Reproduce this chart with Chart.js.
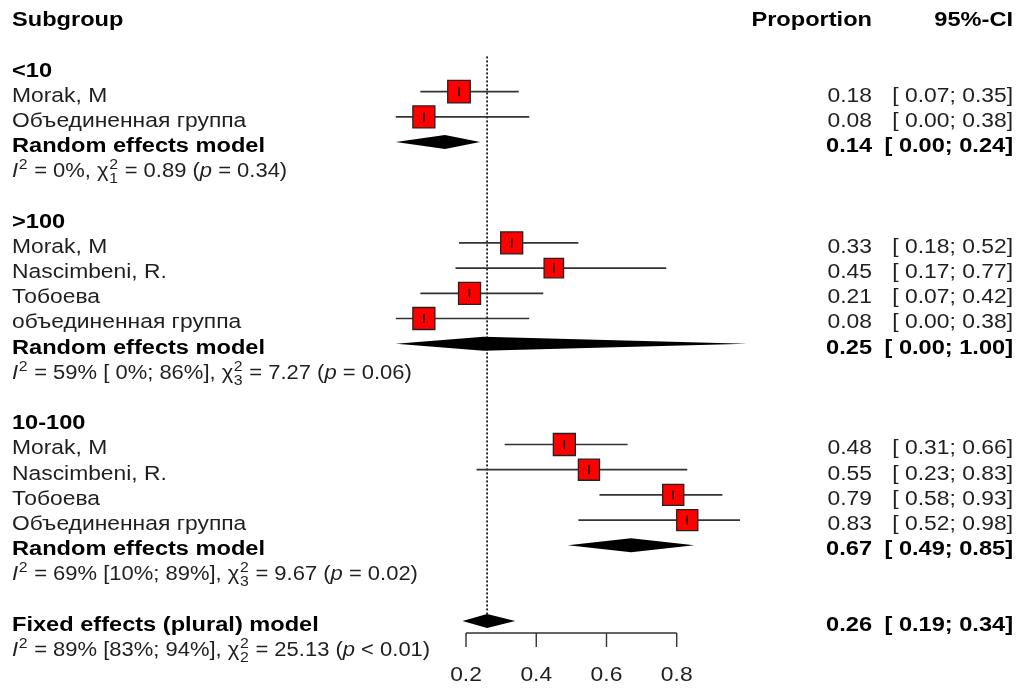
<!DOCTYPE html>
<html>
<head>
<meta charset="utf-8">
<script src="https://cdn.jsdelivr.net/npm/chart.js@4/dist/chart.umd.min.js"></script>
<style>
  html, body { margin: 0; padding: 0; background: #fff; }
  #wrap { width: 1023px; height: 688px; position: relative; }
</style>
</head>
<body>
<div id="wrap"><canvas id="forest"></canvas></div>
<script>
// Column headers
const headers = ['Subgroup', 'Proportion', '95%-CI'];

// Subgroups
const subgroupNames = ['<10', '>100', '10-100'];

// Individual studies
const studyGroup  = [0, 0, 1, 1, 1, 1, 2, 2, 2, 2];
const studyNames  = ['Morak, M', 'Объединенная группа',
                     'Morak, M', 'Nascimbeni, R.', 'Тобоева', 'объединенная группа',
                     'Morak, M', 'Nascimbeni, R.', 'Тобоева', 'Объединенная группа'];
const studyEst    = [0.18, 0.08, 0.33, 0.45, 0.21, 0.08, 0.48, 0.55, 0.79, 0.83];
const studyLow    = [0.07, 0.00, 0.18, 0.17, 0.07, 0.00, 0.31, 0.23, 0.58, 0.52];
const studyHigh   = [0.35, 0.38, 0.52, 0.77, 0.42, 0.38, 0.66, 0.83, 0.93, 0.98];
const studyWeight = [1.05, 1.0, 1.0, 0.78, 1.0, 1.0, 1.0, 0.92, 0.92, 0.92];

// Pooled estimates: one per subgroup, then the overall model
const pooledNames = ['Random effects model', 'Random effects model', 'Random effects model',
                     'Fixed effects (plural) model'];
const pooledEst   = [0.14, 0.25, 0.67, 0.26];
const pooledLow   = [0.00, 0.00, 0.49, 0.19];
const pooledHigh  = [0.24, 1.00, 0.85, 0.34];

// Heterogeneity statistics
const hetI2     = [0, 59, 69, 89];
const hetI2Low  = [null, 0, 10, 83];
const hetI2High = [null, 86, 89, 94];
const hetQ      = [0.89, 7.27, 9.67, 25.13];
const hetDf     = [1, 3, 3, 2];
const hetP      = ['= 0.34', '= 0.06', '= 0.02', '< 0.01'];

// Axis ticks
const axisTicks = [0.2, 0.4, 0.6, 0.8];

// ---- row layout ----
let r = 2;
const studyRow = [];
const pooledRow = [];
const hetRow = [];
const groupRow = [];
subgroupNames.forEach((g, gi) => {
  groupRow[gi] = r++;
  studyNames.forEach((s, i) => { if (studyGroup[i] === gi) studyRow[i] = r++; });
  pooledRow[gi] = r++;
  hetRow[gi] = r++;
  r++;
});
pooledRow[3] = r++;
hetRow[3] = r++;
const axisRow = pooledRow[3] + 0.48;

const FONT = '"Liberation Sans", Arial, sans-serif';
const REG = { size: 19.3, sx: 1.185, weight: 'normal', color: '#1f1f1f' };
const BOLD = { size: 19.5, sx: 1.21, weight: 'bold', color: '#000' };
const HET = { size: 19.3, sx: 1.14, weight: 'normal', color: '#1f1f1f' };

function fmt(v) { return v.toFixed(2); }
function ciText(lo, hi) { return '[ ' + fmt(lo) + '; ' + fmt(hi) + ']'; }
function pad2(n) { return (n < 10 ? ' ' : '') + n; }

function drawText(ctx, str, x, y, st, align) {
  ctx.save();
  ctx.font = st.weight + ' ' + st.size + 'px ' + FONT;
  ctx.fillStyle = st.color;
  ctx.textAlign = align || 'left';
  ctx.textBaseline = 'alphabetic';
  ctx.translate(x, y);
  ctx.scale(st.sx, 1);
  ctx.fillText(str, 0, 0);
  ctx.restore();
}

// heterogeneity line with super/subscripts
function drawHet(ctx, k, x, y) {
  const st = HET;
  let i2 = hetI2[k] + '%';
  if (hetI2Low[k] !== null) i2 += ' [' + pad2(hetI2Low[k]) + '%; ' + hetI2High[k] + '%]';
  const segs = [
    { t: 'I', it: true },
    { sup: '2' },
    { t: ' = ' + i2 + ', ' },
    { t: 'χ' },
    { sup: '2', sub: String(hetDf[k]) },
    { t: ' = ' + fmt(hetQ[k]) + ' (' },
    { t: 'p', it: true },
    { t: ' ' + hetP[k] + ')' }
  ];
  ctx.save();
  ctx.translate(x, y);
  ctx.scale(st.sx, 1);
  ctx.fillStyle = st.color;
  ctx.textBaseline = 'alphabetic';
  ctx.textAlign = 'left';
  let cx = 0;
  const small = st.size * 0.72;
  segs.forEach(s => {
    if (s.t !== undefined) {
      ctx.font = (s.it ? 'italic ' : '') + st.size + 'px ' + FONT;
      ctx.fillText(s.t, cx, 0);
      cx += ctx.measureText(s.t).width;
    } else {
      ctx.font = small + 'px ' + FONT;
      let w = 0;
      ctx.fillText(s.sup, cx + 0.5, -st.size * 0.42);
      w = Math.max(w, ctx.measureText(s.sup).width);
      if (s.sub) {
        ctx.fillText(s.sub, cx + 0.5, st.size * 0.30);
        w = Math.max(w, ctx.measureText(s.sub).width);
      }
      cx += w + 1;
    }
  });
  ctx.restore();
}

const forestPlugin = {
  id: 'forest',
  beforeDatasetsDraw(chart) {
    const ctx = chart.ctx;
    const xs = chart.scales.x, ys = chart.scales.y;
    const X = v => xs.getPixelForValue(v);
    const Y = v => ys.getPixelForValue(v);

    // reference line at the overall estimate
    ctx.save();
    ctx.strokeStyle = '#000';
    ctx.lineWidth = 1.6;
    ctx.setLineDash([2, 2]);
    ctx.beginPath();
    ctx.moveTo(X(pooledEst[3]), Y(1.6));
    ctx.lineTo(X(pooledEst[3]), Y(pooledRow[3]) - 7);
    ctx.stroke();
    ctx.restore();

    // confidence intervals of the studies
    ctx.save();
    ctx.strokeStyle = '#333';
    ctx.lineWidth = 1.7;
    studyEst.forEach((e, i) => {
      const y = Y(studyRow[i]);
      ctx.beginPath();
      ctx.moveTo(X(studyLow[i]), y);
      ctx.lineTo(X(studyHigh[i]), y);
      ctx.stroke();
    });
    ctx.restore();

    // pooled diamonds
    ctx.save();
    ctx.fillStyle = '#000';
    pooledEst.forEach((e, k) => {
      const y = Y(pooledRow[k]);
      ctx.beginPath();
      ctx.moveTo(X(pooledLow[k]), y);
      ctx.lineTo(X(e), y - 7);
      ctx.lineTo(X(pooledHigh[k]), y);
      ctx.lineTo(X(e), y + 7);
      ctx.closePath();
      ctx.fill();
    });
    ctx.restore();
  },
  afterDatasetsDraw(chart) {
    const ctx = chart.ctx;
    const xs = chart.scales.x, ys = chart.scales.y;
    const X = v => xs.getPixelForValue(v);
    const Y = v => ys.getPixelForValue(v);

    // point estimate marks inside the boxes
    ctx.save();
    ctx.strokeStyle = '#000';
    ctx.lineWidth = 1.4;
    studyEst.forEach((e, i) => {
      const y = Y(studyRow[i]);
      ctx.beginPath();
      ctx.moveTo(X(e), y - 4.5);
      ctx.lineTo(X(e), y + 4.5);
      ctx.stroke();
    });
    ctx.restore();

    // x axis
    const ay = Y(axisRow);
    ctx.save();
    ctx.strokeStyle = '#333';
    ctx.lineWidth = 1.4;
    ctx.beginPath();
    ctx.moveTo(X(axisTicks[0]), ay);
    ctx.lineTo(X(axisTicks[axisTicks.length - 1]), ay);
    axisTicks.forEach(t => {
      ctx.moveTo(X(t), ay);
      ctx.lineTo(X(t), ay + 14);
    });
    ctx.stroke();
    ctx.restore();
    axisTicks.forEach(t => drawText(ctx, t.toFixed(1), X(t), ay + 48, REG, 'center'));

    // text columns
    const L = 12, EST_R = 872, CI_R = 1013, BASE = 10;
    drawText(ctx, headers[0], L, Y(0) + BASE, BOLD, 'left');
    drawText(ctx, headers[1], EST_R, Y(0) + BASE, BOLD, 'right');
    drawText(ctx, headers[2], CI_R, Y(0) + BASE, BOLD, 'right');

    subgroupNames.forEach((g, gi) => drawText(ctx, g, L, Y(groupRow[gi]) + BASE, BOLD, 'left'));
    studyNames.forEach((s, i) => {
      const y = Y(studyRow[i]) + BASE;
      drawText(ctx, s, L, y, REG, 'left');
      drawText(ctx, fmt(studyEst[i]), EST_R, y, REG, 'right');
      drawText(ctx, ciText(studyLow[i], studyHigh[i]), CI_R, y, REG, 'right');
    });
    pooledNames.forEach((s, k) => {
      const y = Y(pooledRow[k]) + BASE;
      drawText(ctx, s, L, y, BOLD, 'left');
      drawText(ctx, fmt(pooledEst[k]), EST_R, y, BOLD, 'right');
      drawText(ctx, ciText(pooledLow[k], pooledHigh[k]), CI_R, y, BOLD, 'right');
      drawHet(ctx, k, L, Y(hetRow[k]) + BASE);
    });
  }
};

const boxSide = w => 22 * Math.sqrt(w);

new Chart(document.getElementById('forest'), {
  type: 'scatter',
  data: {
    datasets: [{
      data: studyEst.map((e, i) => ({ x: e, y: studyRow[i] })),
      pointStyle: 'rect',
      pointRadius: studyWeight.map(w => boxSide(w) / Math.SQRT2),
      pointHoverRadius: studyWeight.map(w => boxSide(w) / Math.SQRT2),
      backgroundColor: '#ff0000',
      borderColor: '#222',
      borderWidth: 1.3
    }]
  },
  options: {
    responsive: true,
    maintainAspectRatio: false,
    animation: false,
    events: [],
    layout: { padding: 0, autoPadding: false },
    plugins: { legend: { display: false }, tooltip: { enabled: false } },
    scales: {
      x: { type: 'linear', min: -1.127, max: 1.786, display: false },
      y: { type: 'linear', min: -0.639, max: 26.663, reverse: true, display: false }
    }
  },
  plugins: [forestPlugin]
});
</script>
</body>
</html>
